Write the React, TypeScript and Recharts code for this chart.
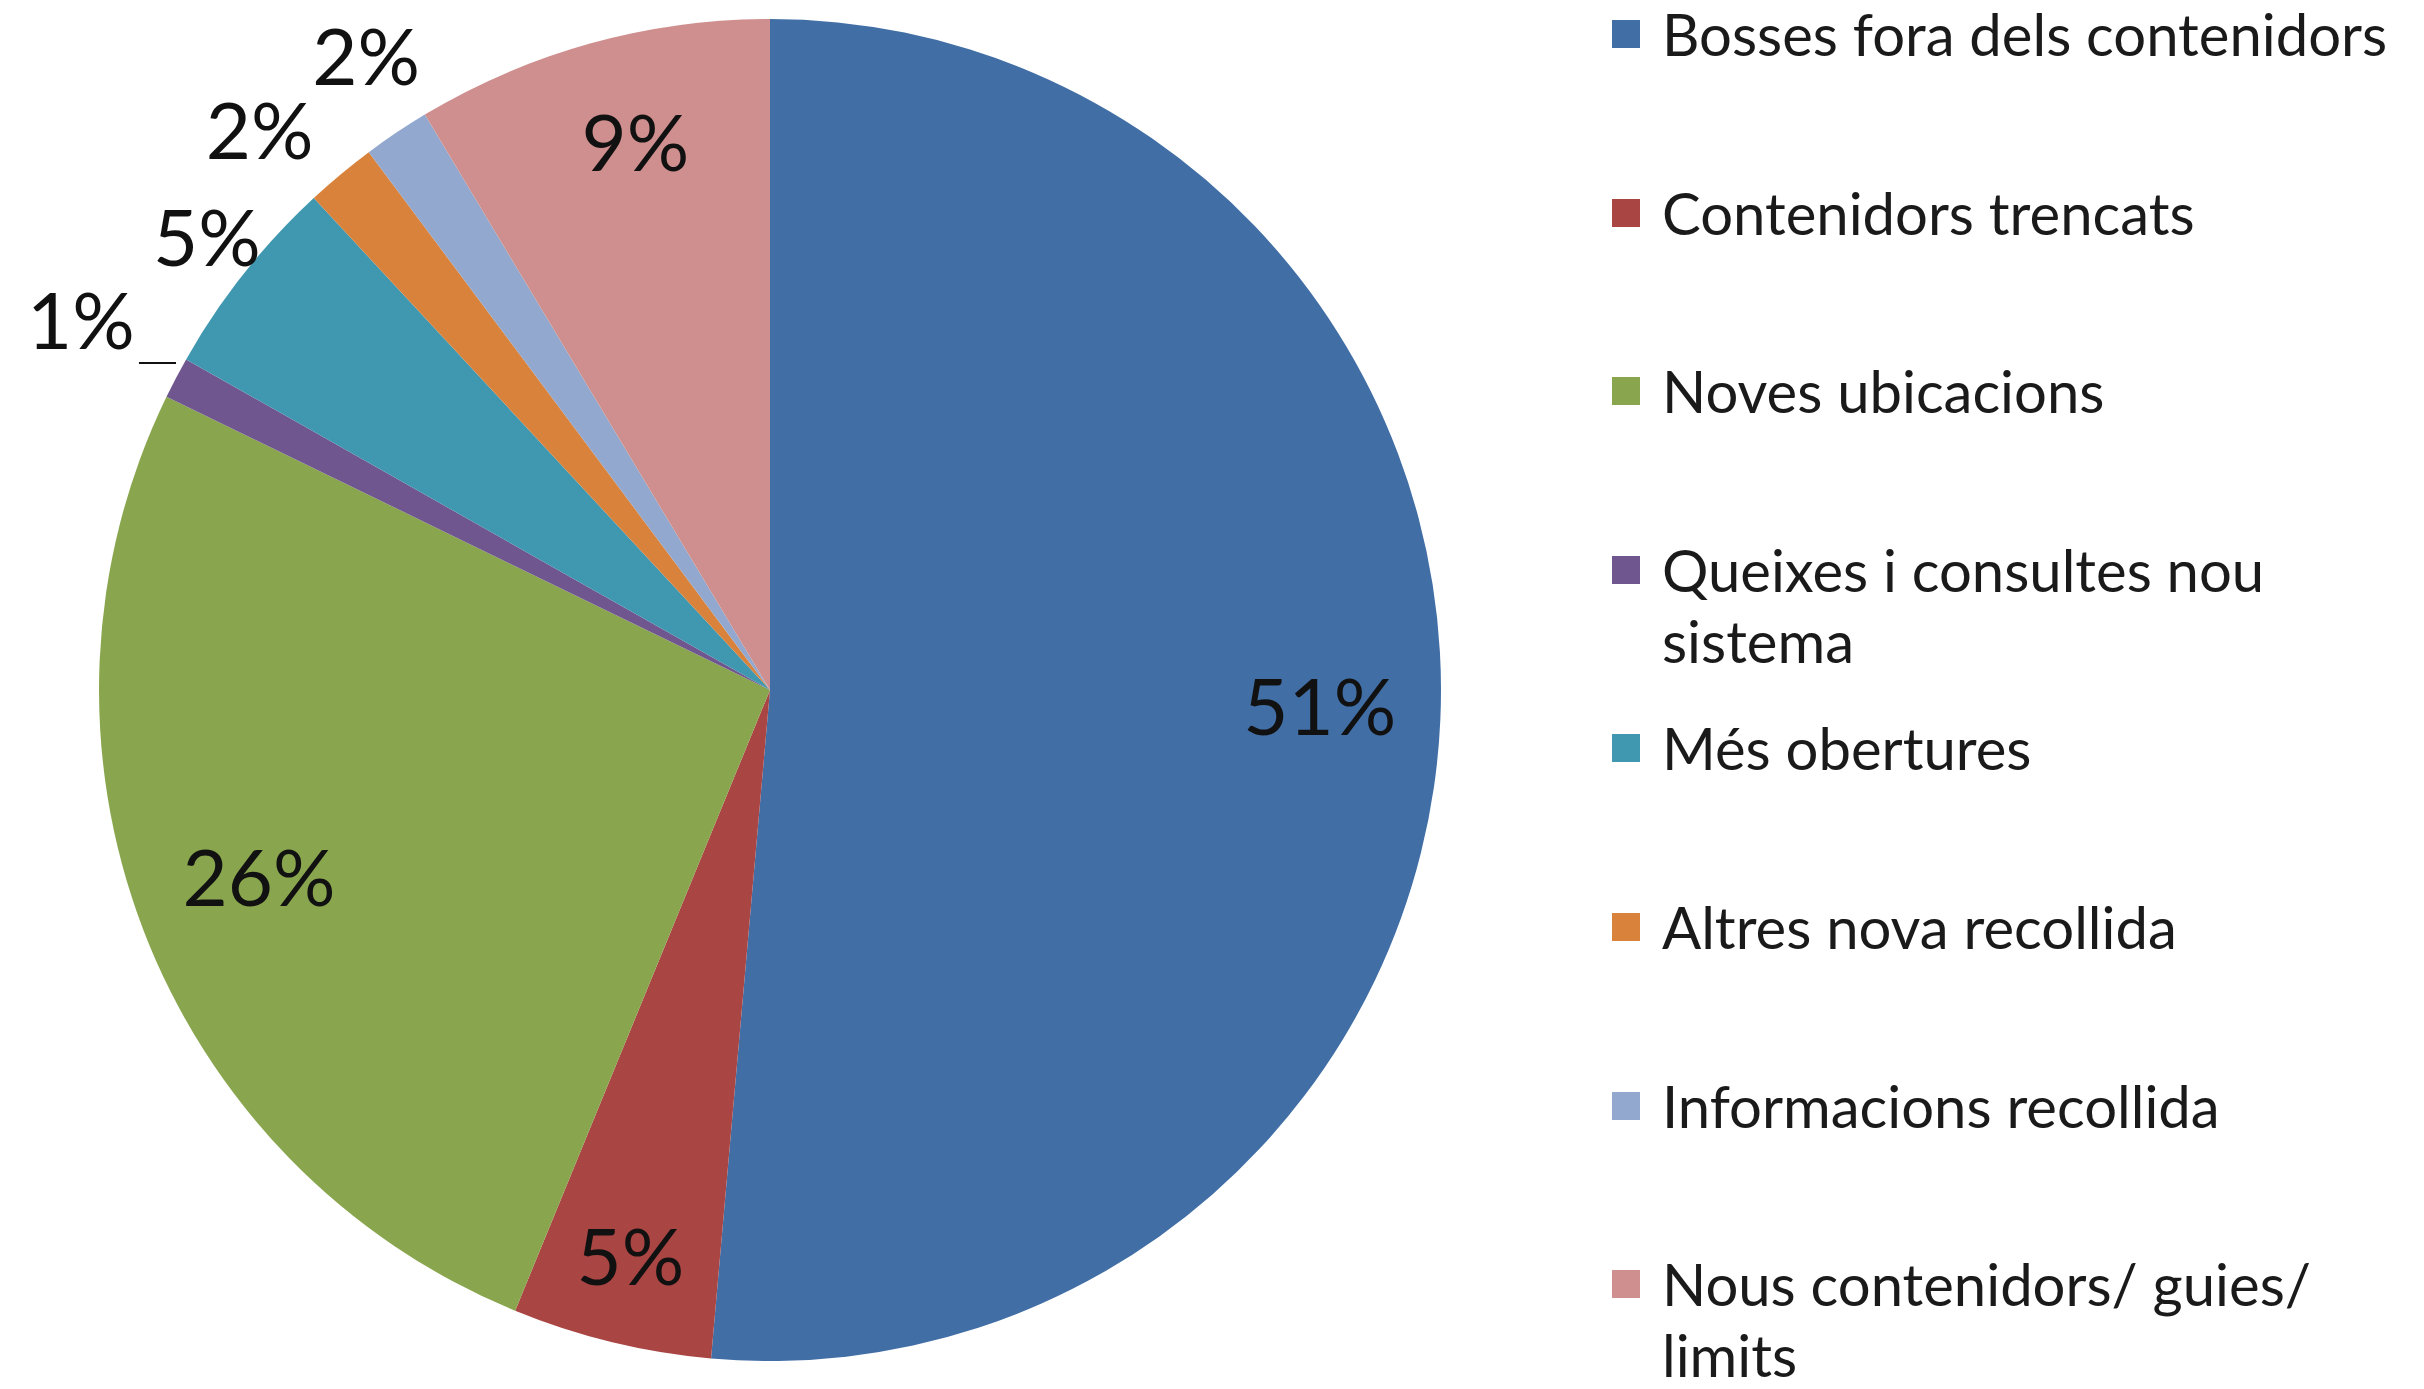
import { PieChart, Pie, Cell, Legend } from 'recharts'

const categories = [
  'Bosses fora dels contenidors',
  'Contenidors trencats',
  'Noves ubicacions',
  'Queixes i consultes nou sistema',
  'Més obertures',
  'Altres nova recollida',
  'Informacions recollida',
  'Nous contenidors/ guies/ limits',
]
const shares = [51.4, 4.8, 26.0, 1.0, 4.9, 1.7, 1.6, 8.6]
const colors = ['#416ea5', '#a94542', '#89a64e', '#70568f', '#3f97b0', '#d9823b', '#92a8ce', '#cf8f8e']

const data = categories.map((name, i) => ({ name, value: shares[i] }))

// label placement: fraction of radius, and a small angle nudge (degrees)
const labelRadius = [0.82, 0.88, 0.815, 1.16, 1.07, 1.12, 1.11, 0.83]
const labelNudge = [0, 0, 0, 0, 0, 3, -1, -1.5]

const FONT = 'Lato, "Noto Sans", sans-serif'
const RAD = Math.PI / 180

function renderLabel(props: any) {
  const { cx, cy, midAngle, outerRadius, percent, index } = props
  const r = outerRadius * labelRadius[index]
  const a = midAngle + labelNudge[index]
  const x = cx + r * Math.cos(-a * RAD)
  const y = cy + r * Math.sin(-a * RAD) - 9
  const text = `${Math.round(percent * 100)}%`
  const ex = cx + outerRadius * Math.cos(-midAngle * RAD)
  const ey = cy + outerRadius * Math.sin(-midAngle * RAD)
  return (
    <g key={`lbl-${index}`}>
      {index === 3 && (
        <line x1={ex} y1={ey - 15} x2={x + 58} y2={ey - 15} stroke="#111" strokeWidth={2} />
      )}
      <text
        x={x}
        y={y}
        textAnchor="middle"
        dominantBaseline="central"
        fontFamily={FONT}
        fontSize={78}
        fill="#111"
      >
        {text}
      </text>
    </g>
  )
}

function renderLegend(props: any) {
  const items = [...(props.payload || [])].sort(
    (a: any, b: any) => categories.indexOf(a.value) - categories.indexOf(b.value)
  )
  return (
    <div style={{ position: 'relative', width: 800, height: 1389, fontFamily: FONT }}>
      {items.map((entry: any, i: number) => (
        <div
          key={entry.value}
          style={{ position: 'absolute', left: 0, top: -2 + i * 178.6, display: 'flex', alignItems: 'flex-start' }}
        >
          <div style={{ width: 28, height: 28, marginTop: 22, background: entry.color, flex: 'none' }} />
          <div style={{ marginLeft: 22, width: 760, fontSize: 58, lineHeight: '71px', color: '#1a1a1a' }}>
            {entry.value}
          </div>
        </div>
      ))}
    </div>
  )
}

export default function App() {
  return (
    <div style={{ position: 'absolute', left: 0, top: 0, width: 2424, height: 1389, background: '#fff' }}>
      <PieChart width={2424} height={1389}>
        <Pie
          data={data}
          dataKey="value"
          nameKey="name"
          cx={765}
          cy={685}
          outerRadius={671}
          startAngle={90}
          endAngle={-270}
          stroke="none"
          label={renderLabel}
          labelLine={false}
          legendType="square"
          isAnimationActive={false}
        >
          {data.map((d, i) => (
            <Cell key={d.name} fill={colors[i]} />
          ))}
        </Pie>
        <Legend
          layout="vertical"
          align="right"
          verticalAlign="top"
          itemSorter={null}
          content={renderLegend}
          wrapperStyle={{ left: 1612, top: 0, width: 800, height: 1389 }}
        />
      </PieChart>
    </div>
  )
}
